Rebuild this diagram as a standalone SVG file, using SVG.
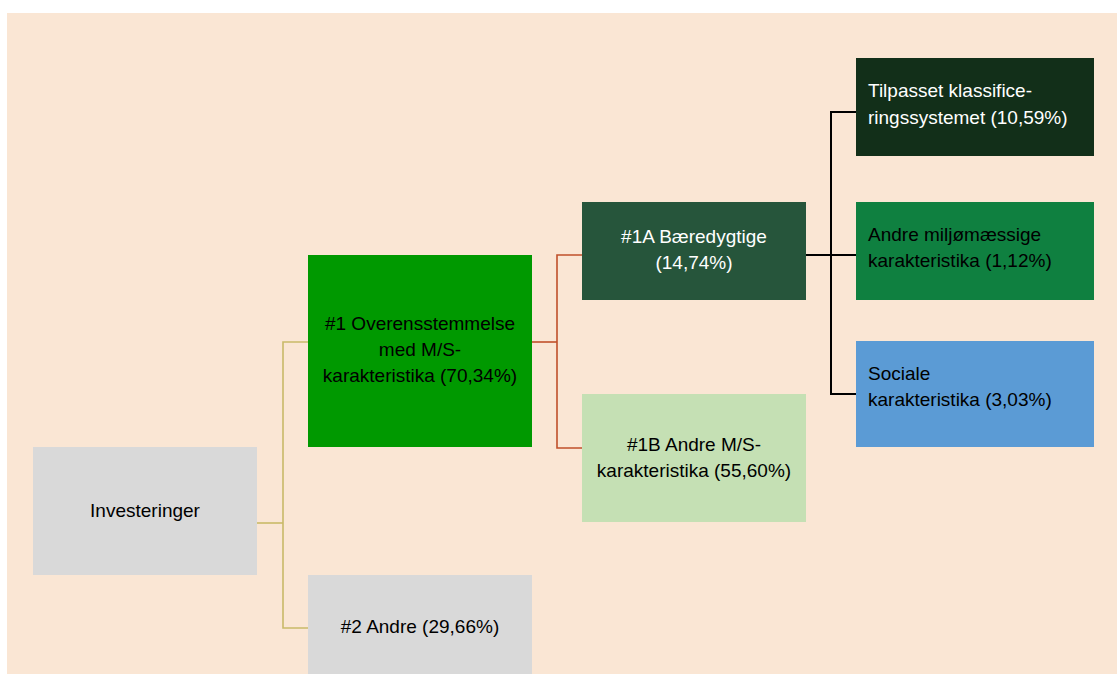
<svg xmlns="http://www.w3.org/2000/svg" width="1117" height="674" viewBox="0 0 1117 674">
<style>
text{font-family:"Liberation Sans",Arial,sans-serif;font-size:19px;fill:#000}
.w{fill:#fff}
.c{text-anchor:middle}
.gold{fill:none;stroke:#C9BA68;stroke-width:1.6}
.red{fill:none;stroke:#C0502A;stroke-width:1.6}
.blk{fill:none;stroke:#000;stroke-width:2}
</style>
<rect x="0" y="0" width="1117" height="674" fill="#fff"/>
<rect x="7" y="13" width="1110" height="661" fill="#FAE6D4"/>
<g id="connectors">
<polyline class="gold" points="257,523 283,523"/>
<polyline class="gold" points="308,342 283,342 283,628 308,628"/>
<polyline class="red" points="532,342 557,342"/>
<polyline class="red" points="582,255 557,255 557,448 582,448"/>
<polyline class="blk" points="806,255 856,255"/>
<polyline class="blk" points="856,112 831,112 831,394 856,394"/>
</g>
<g id="investeringer">
<rect x="33" y="447" width="224" height="128" fill="#D9D9D9"/>
<text class="c" x="145" y="517">Investeringer</text>
</g>
<g id="n1">
<rect x="308" y="255" width="224" height="192" fill="#009900"/>
<text class="c" x="420" y="330">#1 Overensstemmelse</text>
<text class="c" x="420" y="356">med M/S-</text>
<text class="c" x="420" y="382">karakteristika (70,34%)</text>
</g>
<g id="n2">
<rect x="308" y="575" width="224" height="99" fill="#D9D9D9"/>
<text class="c" x="420" y="633">#2 Andre (29,66%)</text>
</g>
<g id="n1a">
<rect x="582" y="202" width="224" height="98" fill="#26553B"/>
<text class="c w" x="694" y="243">#1A Bæredygtige</text>
<text class="c w" x="694" y="269">(14,74%)</text>
</g>
<g id="n1b">
<rect x="582" y="394" width="224" height="128" fill="#C5E0B4"/>
<text class="c" x="694" y="451">#1B Andre M/S-</text>
<text class="c" x="694" y="477">karakteristika (55,60%)</text>
</g>
<g id="taxonomy">
<rect x="856" y="58" width="238" height="98" fill="#122F19"/>
<text class="w" x="868" y="97">Tilpasset klassifice-</text>
<text class="w" x="868" y="124">ringssystemet (10,59%)</text>
</g>
<g id="env">
<rect x="856" y="202" width="238" height="98" fill="#0F8040"/>
<text x="868" y="241">Andre miljømæssige</text>
<text x="868" y="267">karakteristika (1,12%)</text>
</g>
<g id="social">
<rect x="856" y="341" width="238" height="106" fill="#5B9BD5"/>
<text x="868" y="380">Sociale</text>
<text x="868" y="406">karakteristika (3,03%)</text>
</g>
</svg>
